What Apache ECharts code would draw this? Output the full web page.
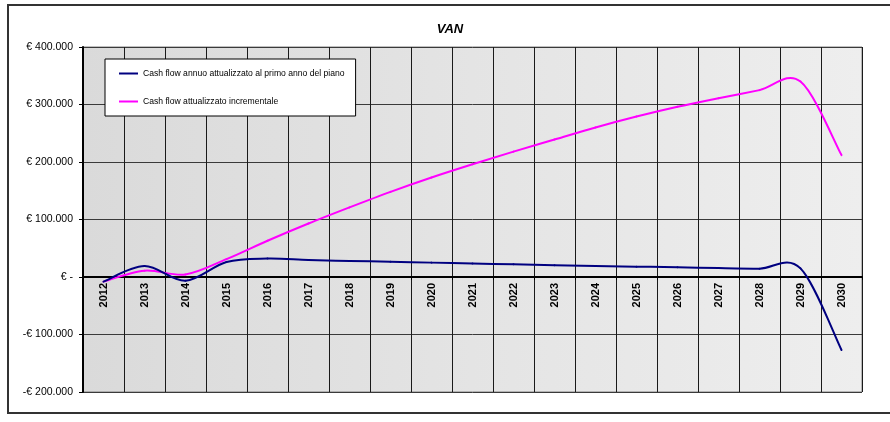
<!DOCTYPE html>
<html>
<head>
<meta charset="utf-8">
<title>VAN</title>
<script src="https://cdn.jsdelivr.net/npm/echarts@6/dist/echarts.min.js"></script>
<style>
  html, body { margin: 0; padding: 0; background: #fff; }
  #chart { width: 890px; height: 422px; }
</style>
</head>
<body>
<div id="chart"></div>
<script>
// Years of the plan
const years = ['2012', '2013', '2014', '2015', '2016', '2017', '2018', '2019', '2020', '2021',
               '2022', '2023', '2024', '2025', '2026', '2027', '2028', '2029', '2030'];

// Annual cash flow discounted to the first year of the plan (€)
const cashFlowAnnuo = [-8000, 19000, -6500, 26000, 32000, 29500, 28000, 26500, 25000, 23500,
                       22000, 20500, 19000, 18000, 17000, 15500, 14500, 15000, -127000];

// Incremental discounted cash flow (€)
const cashFlowIncrementale = [-8000, 11000, 4500, 31000, 63000, 93000, 121000, 148000, 173000, 196000,
                              218000, 239000, 260000, 279000, 296000, 311000, 325000, 340000, 212000];

const seriesNames = ['Cash flow annuo attualizzato al primo anno del piano',
                     'Cash flow attualizzato incrementale'];

// y range of the value axis
const Y_MIN = -200000;
const Y_MAX = 400000;
const Y_STEP = 100000;

const FONT = '"Liberation Sans", Arial, sans-serif';

const GRID = { left: 83, top: 47, width: 779, height: 345 };

function euro(v) {
  if (v === 0) return '€ -';
  const s = Math.abs(v).toString().replace(/\B(?=(\d{3})+(?!\d))/g, '.');
  return (v < 0 ? '-€ ' : '€ ') + s;
}

// the category axis sits on the zero line, labels included
const zeroOffset = -GRID.height * (0 - Y_MIN) / (Y_MAX - Y_MIN);

// Smoothed line drawn as cubic Bézier segments (Catmull-Rom style tangents),
// each point placed through the chart's own axes with api.coord.
function smoothLine(name, values, color, z) {
  const n = values.length;
  const at = k => Math.max(0, Math.min(n - 1, k));
  return {
    name: name,
    type: 'custom',
    z: z,
    data: values.map((v, i) => [i, v]),
    encode: { x: 0, y: 1 },
    itemStyle: { color: color },
    renderItem: function (params, api) {
      const i = params.dataIndex;
      if (i >= n - 1) return null;
      const pt = k => api.coord([at(k), api.value(1, at(k))]);
      const p0 = pt(i - 1), p1 = pt(i), p2 = pt(i + 1), p3 = pt(i + 2);
      return {
        type: 'bezierCurve',
        shape: {
          x1: p1[0], y1: p1[1],
          x2: p2[0], y2: p2[1],
          cpx1: p1[0] + (p2[0] - p0[0]) / 6,
          cpy1: p1[1] + (p2[1] - p0[1]) / 6,
          cpx2: p2[0] - (p3[0] - p1[0]) / 6,
          cpy2: p2[1] - (p3[1] - p1[1]) / 6
        },
        style: { fill: 'none', stroke: color, lineWidth: 2, lineCap: 'round' },
        silent: true
      };
    }
  };
}

const chart = echarts.init(document.getElementById('chart'), null, { renderer: 'canvas' });

chart.setOption({
  animation: false,
  backgroundColor: '#ffffff',
  textStyle: { fontFamily: FONT },
  graphic: [
    {
      type: 'rect',
      shape: { x: 8, y: 5, width: 895, height: 408 },
      style: { fill: 'none', stroke: '#333', lineWidth: 2 },
      silent: true,
      z: 0
    },
    {
      type: 'text',
      x: 450, y: 29,
      style: {
        text: 'VAN',
        fill: '#000',
        font: 'italic bold 13px ' + FONT,
        textAlign: 'center',
        textVerticalAlign: 'middle'
      },
      silent: true
    }
  ],
  grid: {
    left: GRID.left, top: GRID.top, width: GRID.width, height: GRID.height,
    show: true,
    borderColor: '#808080',
    borderWidth: 1,
    backgroundColor: {
      type: 'linear', x: 0, y: 0, x2: 1, y2: 0,
      colorStops: [
        { offset: 0, color: '#dadada' },
        { offset: 1, color: '#eeeeee' }
      ]
    }
  },
  legend: {
    orient: 'vertical',
    left: 105, top: 59,
    padding: [10, 11, 10, 14],
    itemGap: 19,
    itemWidth: 19,
    itemHeight: 2,
    icon: 'rect',
    backgroundColor: '#ffffff',
    borderColor: '#000',
    borderWidth: 1,
    textStyle: { fontSize: 8.6, color: '#000', fontFamily: FONT },
    data: seriesNames
  },
  xAxis: {
    type: 'category',
    data: years,
    boundaryGap: true,
    position: 'bottom',
    offset: zeroOffset,
    axisLine: { onZero: false, lineStyle: { color: '#000', width: 2 } },
    axisTick: { show: true, length: 3, lineStyle: { color: '#000' } },
    axisLabel: {
      rotate: 90,
      margin: 6,
      interval: 0,
      fontSize: 11,
      fontWeight: 'bold',
      color: '#000',
      fontFamily: FONT
    },
    splitLine: { show: true, interval: 0, lineStyle: { color: '#1a1a1a', width: 1 } }
  },
  yAxis: {
    type: 'value',
    min: Y_MIN,
    max: Y_MAX,
    interval: Y_STEP,
    axisLine: { show: true, lineStyle: { color: '#000', width: 2 } },
    axisTick: { show: true, length: 4, lineStyle: { color: '#000' } },
    axisLabel: {
      formatter: euro,
      margin: 10,
      fontSize: 10.5,
      color: '#000',
      fontFamily: FONT
    },
    splitLine: { show: true, lineStyle: { color: '#3a3a3a', width: 1 } }
  },
  series: [
    smoothLine(seriesNames[0], cashFlowAnnuo, '#000080', 3),
    smoothLine(seriesNames[1], cashFlowIncrementale, '#ff00ff', 2)
  ]
});
</script>
</body>
</html>
